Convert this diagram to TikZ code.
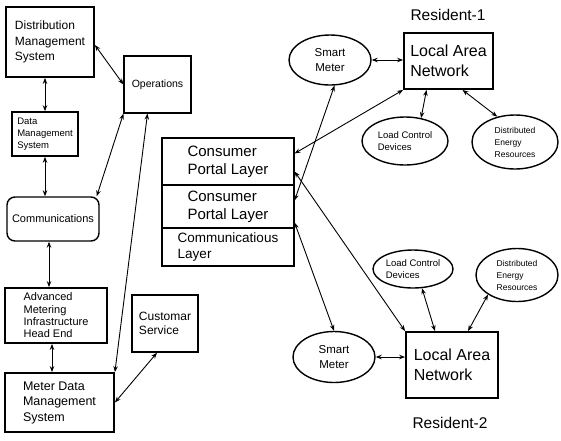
\documentclass[tikz,border=0pt]{standalone}
\usepackage{fontspec}
\setmainfont{Liberation Sans}
\usetikzlibrary{shapes.geometric,arrows.meta}

\begin{document}
\begin{tikzpicture}[x=1pt,y=-1pt,>={Stealth[length=6pt,width=4.5pt]},
  box/.style={draw,line width=1.8pt,inner sep=0pt,align=left},
  thinbox/.style={draw,line width=1.1pt,inner sep=0pt,align=left},
  oval/.style={draw,ellipse,line width=1.4pt,inner sep=0pt,align=left},
  link/.style={<->,line width=0.9pt}]
\useasboundingbox (0,0) rectangle (561,440);
\node[box,minimum width=88pt,minimum height=70pt,font=\fontsize{12}{15.5}\selectfont] (dms) at (50,42) {Distribution\\Management\\System};
\node[thinbox,minimum width=67pt,minimum height=57pt,font=\fontsize{10.5}{13}\selectfont] (ops) at (157.5,84.5) {Operations};
\node[box,line width=1.6pt,minimum width=66pt,minimum height=44pt,font=\fontsize{9.5}{12}\selectfont] (datams) at (45,134) {Data\\Management\\System};
\node[box,rounded corners=8pt,line width=1.4pt,minimum width=92pt,minimum height=44pt,font=\fontsize{11}{13}\selectfont] (comm) at (53,219) {Communications};
\node[box,minimum width=102pt,minimum height=55pt,font=\fontsize{11}{12.3}\selectfont] (ami) at (56,315.5) {Advanced\\Metering\\Infrastructure\\Head End};
\node[box,minimum width=109pt,minimum height=59pt,font=\fontsize{12.5}{15.5}\selectfont] (mdms) at (59.5,402.5) {Meter Data\\Management\\System};
\node[thinbox,line width=1.4pt,minimum width=66pt,minimum height=57pt,font=\fontsize{12}{14}\selectfont] (cust) at (165,323.5) {Customar\\Service};
\node[thinbox,minimum width=132pt,minimum height=47pt,font=\fontsize{15}{18}\selectfont] (cp1) at (228,161.5) {Consumer\\Portal Layer};
\node[thinbox,minimum width=132pt,minimum height=43pt,font=\fontsize{15}{18}\selectfont] (cp2) at (228,206.5) {Consumer\\Portal Layer};
\node[thinbox,minimum width=132pt,minimum height=38pt,font=\fontsize{13.5}{16}\selectfont] (cl) at (228,247) {Communicatious\\Layer};
\node[font=\fontsize{15.5}{18}\selectfont] (res1) at (448,15) {Resident-1};
\node[oval,align=center,minimum width=82pt,minimum height=50pt,font=\fontsize{11.5}{15}\selectfont] (sm1) at (330,60) {Smart\\Meter};
\node[box,minimum width=89pt,minimum height=56pt,font=\fontsize{16}{20.5}\selectfont] (lan1) at (448.5,61) {Local Area\\Network};
\node[oval,minimum width=86pt,minimum height=48pt,font=\fontsize{9.5}{12.5}\selectfont] (lcd1) at (405,141) {Load Control\\Devices};
\node[oval,minimum width=86pt,minimum height=54pt,font=\fontsize{8.5}{12}\selectfont] (der1) at (515,142) {Distributed\\Energy\\Resources};
\node[oval,minimum width=80pt,minimum height=38pt,font=\fontsize{9.5}{12.5}\selectfont] (lcd2) at (413,269) {Load Control\\Devices};
\node[oval,minimum width=82pt,minimum height=53pt,font=\fontsize{8.5}{12}\selectfont] (der2) at (517,275) {Distributed\\Energy\\Resources};
\node[oval,align=center,minimum width=82pt,minimum height=51pt,font=\fontsize{11.5}{15}\selectfont] (sm2) at (334,357) {Smart\\Meter};
\node[box,minimum width=92pt,minimum height=66pt,font=\fontsize{16}{20.5}\selectfont] (lan2) at (452,365) {Local Area\\Network};
\node[font=\fontsize{15.5}{18}\selectfont] (res2) at (450,423) {Resident-2};
\draw[link] ([yshift=-3pt]dms.east) -- (ops.west);
\draw[link] (datams.north) -- (datams.north |- dms.south);
\draw[link] (datams.south) -- (datams.south |- comm.north);
\draw[link] ([xshift=-3pt]comm.north east) -- (ops.south west);
\draw[link] ([xshift=-10pt]ops.south) -- (mdms.north east);
\draw[link] ([xshift=-4pt]comm.south) -- ([xshift=-4pt]comm.south |- ami.north);
\draw[link] ([xshift=-4pt]ami.south) -- ([xshift=-4pt]ami.south |- mdms.north);
\draw[link] (mdms.east) -- ([xshift=-8pt]cust.south);
\draw[link] (sm1.east) -- (sm1.east -| lan1.west);
\draw[link] (lan1.south west) -- ([yshift=8pt]cp1.east);
\draw[link] ([xshift=-22pt]lan1.south) -- (lcd1.55);
\draw[link] ([xshift=14pt]lan1.south) -- (der1.125);
\draw[link] (sm1.-80) -- ([yshift=6pt]cp2.east);
\draw[link] ([yshift=-10pt]cp1.east) -- (lan2.north west);
\draw[link] ([yshift=-16pt]cp2.east) -- (sm2.north);
\draw[link] (sm2.east) -- (sm2.east -| lan2.west);
\draw[link] (lcd2.-65) -- ([xshift=-17pt]lan2.north);
\draw[link] (der2.-146) -- ([xshift=16pt]lan2.north);
\end{tikzpicture}
\end{document}
